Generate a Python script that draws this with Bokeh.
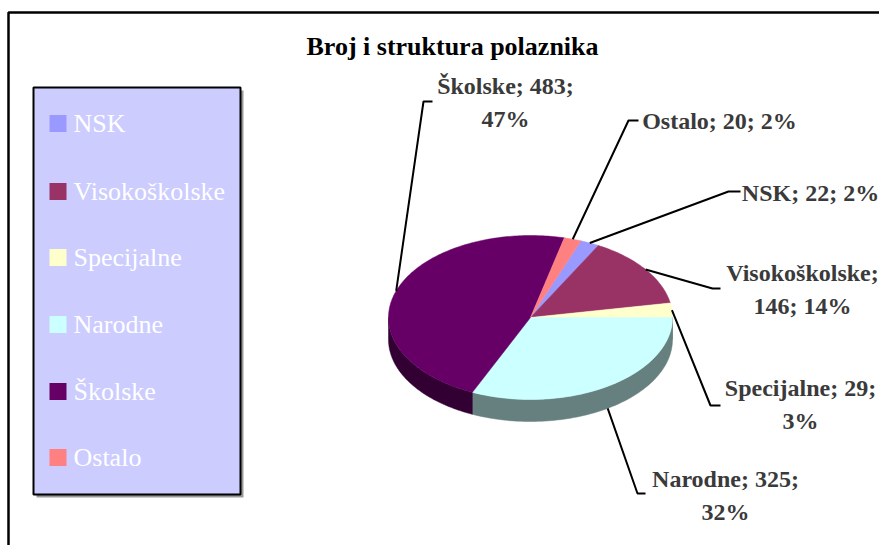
import numpy as np
from bokeh.plotting import figure
from bokeh.models import Range1d
from bokeh.core.properties import value
from bokeh.embed import file_html
from bokeh.resources import INLINE

# ---- data ----
categories = ["NSK", "Visokoškolske", "Specijalne", "Narodne", "Školske", "Ostalo"]
counts = [22, 146, 29, 325, 483, 20]
top_colors = ["#9999FF", "#993366", "#FFFFCC", "#CCFFFF", "#660066", "#FF8080"]
side_colors = ["#4D4D80", "#4D1A33", "#808066", "#668080", "#330033", "#804040"]
title_text = "Broj i struktura polaznika"

# ---- layout (screen pixels) ----
W, H = 879, 545
SERIF = value("'Liberation Serif', serif")


def sx(x):
    return x


def sy(y):
    return H - y


cx, cy = sx(530), sy(317)
rx, ry, depth = 142, 82, 22

label_pos = [(810, 192), (802, 289), (800, 404), (725, 495), (505, 102), (719, 120)]
elbows = [((740, 191), (728, 191)), ((720, 288), (712, 288)), ((720, 405), (710, 405)),
          ((645, 493), (637, 493)), ((432, 101), (423, 101)), ((638, 120), (628, 120))]
legend_y = [123, 191, 257, 324, 391, 457]

p = figure(width=W, height=H, output_backend="svg", toolbar_location=None,
           x_range=Range1d(0, W), y_range=Range1d(0, H), min_border=0)
p.axis.visible = False
p.grid.visible = False
p.outline_line_color = None
p.background_fill_color = "white"
p.border_fill_color = "white"

# chart frame
p.quad(left=[sx(8)], right=[W + 20], top=[sy(12)], bottom=[-20], fill_color=None,
       line_color="black", line_width=2.5)

# ---- pie geometry from data ----
vals = np.array(counts, dtype=float)
total = vals.sum()
fr = vals / total
start0 = 2 * np.pi * fr[:3].sum()
starts = start0 - 2 * np.pi * np.concatenate([[0], np.cumsum(fr)[:-1]])
ends = starts - 2 * np.pi * fr


def ell(t):
    return cx + rx * np.cos(t), cy + ry * np.sin(t)


side_xs, side_ys, side_cols = [], [], []
for s, e, c in zip(starts, ends, side_colors):
    for k in (0, -2 * np.pi):
        lo, hi = max(e, -np.pi + k), min(s, 0 + k)
        if lo < hi:
            t = np.linspace(hi, lo, 80)
            x, y = ell(t)
            side_xs.append(list(np.concatenate([x, x[::-1]])))
            side_ys.append(list(np.concatenate([y, (y - depth)[::-1]])))
            side_cols.append(c)
p.patches(xs=side_xs, ys=side_ys, fill_color=side_cols, line_color=side_cols, line_width=0.5)

top_xs, top_ys = [], []
for s, e in zip(starts, ends):
    n = max(int(abs(s - e) * 60), 4)
    t = np.linspace(s, e, n)
    x, y = ell(t)
    top_xs.append([cx] + list(x))
    top_ys.append([cy] + list(y))
p.patches(xs=top_xs, ys=top_ys, fill_color=top_colors, line_color=top_colors, line_width=0.5)

# ---- leader lines and data labels ----
mids = (starts + ends) / 2
lx, ly = [], []
for m, (a, b) in zip(mids, elbows):
    ax, ay = ell(m)
    if np.sin(m) < 0:
        ay = ay - depth
    lx.append([sx(a[0]), sx(b[0]), ax])
    ly.append([sy(a[1]), sy(b[1]), ay])
p.multi_line(xs=lx, ys=ly, line_color="black", line_width=2)

pct = [int(round(100 * f)) for f in fr]
texts = []
for name, v, pc in zip(categories, counts, pct):
    if name == "Visokoškolske":
        texts.append(f"{name};\n{v}; {pc}%")
    elif name in ("Specijalne", "Narodne", "Školske"):
        texts.append(f"{name}; {v};\n{pc}%")
    else:
        texts.append(f"{name}; {v}; {pc}%")
p.text(x=[sx(a) for a, b in label_pos], y=[sy(b) for a, b in label_pos], text=texts,
       text_align="center", text_baseline="middle", text_font=SERIF,
       text_font_style="bold", text_font_size="24px", text_color="#3a3a3a",
       text_line_height=1.3)

p.text(x=[sx(452)], y=[sy(46)], text=[title_text], text_align="center", text_baseline="middle",
       text_font=SERIF, text_font_style="bold", text_font_size="26px", text_color="black")

# ---- legend ----
p.quad(left=[sx(36)], right=[sx(243)], top=[sy(90)], bottom=[sy(497)], fill_color="#999999",
       line_color=None)
p.quad(left=[sx(33)], right=[sx(240)], top=[sy(87)], bottom=[sy(494)], fill_color="#CCCCFF",
       line_color="black", line_width=2)
p.rect(x=[sx(57.5)] * len(categories), y=[sy(v) for v in legend_y], width=17, height=17,
       fill_color=top_colors, line_color=None)
p.text(x=[sx(73)] * len(categories), y=[sy(v) for v in legend_y], text=categories,
       text_align="left", text_baseline="middle", text_font=SERIF,
       text_font_size="26px", text_color="white")

open("out.html", "w").write(file_html(p, INLINE))
